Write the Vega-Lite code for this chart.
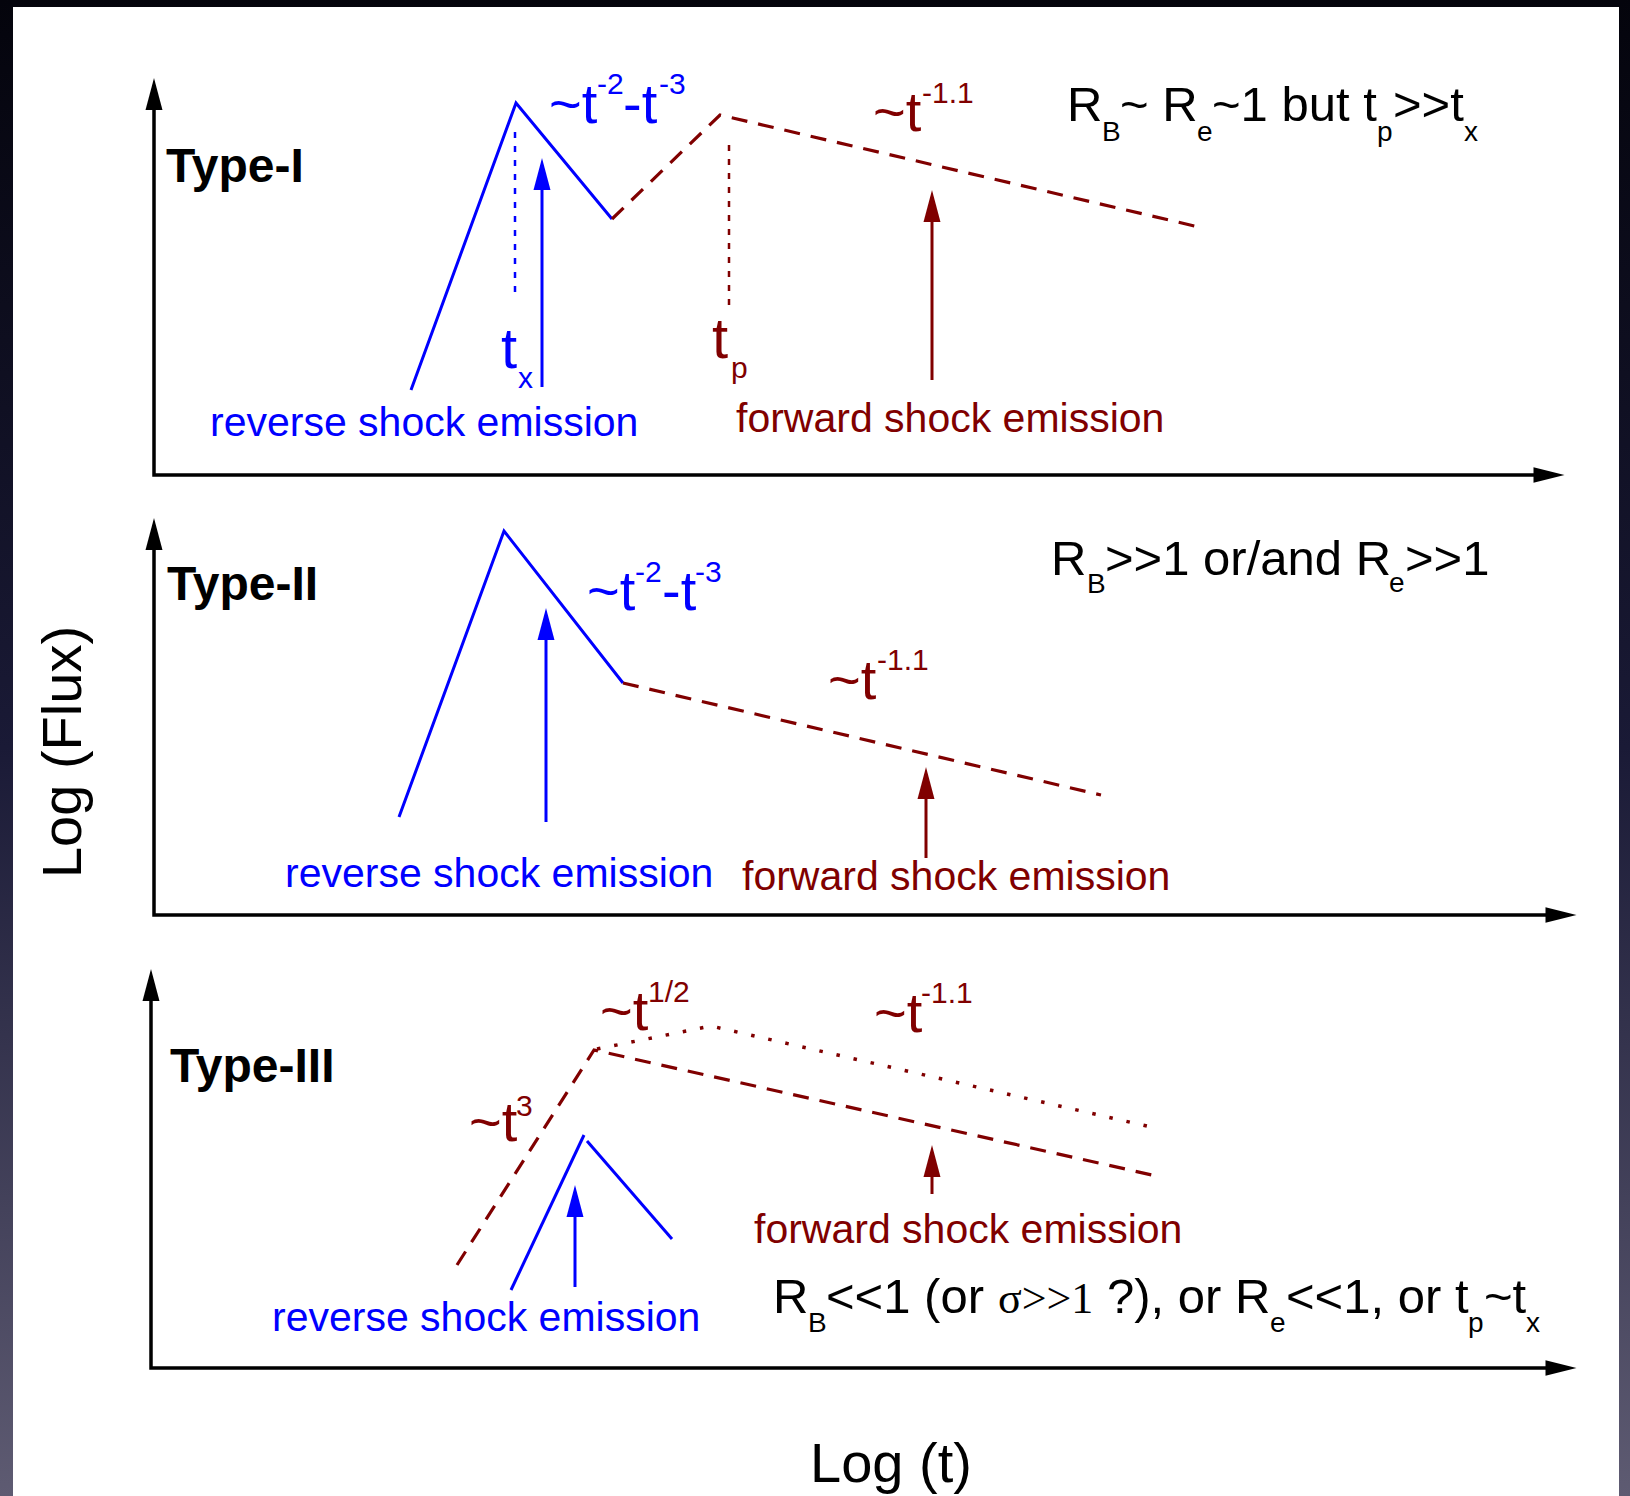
{
  "$schema": "https://vega.github.io/schema/vega-lite/v6.json",
  "width": 1630,
  "height": 1496,
  "autosize": {"type": "fit", "contains": "padding"},
  "padding": 0,
  "background": "#ffffff",
  "config": {"view": {"stroke": null}},
  "datasets": {
    "frame": [
      {"part": "border", "x": 0, "x2": 1630, "y": 0, "y2": 1496},
      {"part": "paper", "x": 13, "x2": 1619, "y": 7, "y2": 1496}
    ],
    "paths": [
      {"id": "ax1", "k": 0, "x": 154, "y": 96, "grp": "axis", "kind": "axis"},
      {"id": "ax1", "k": 1, "x": 154, "y": 475, "grp": "axis", "kind": "axis"},
      {"id": "ax1", "k": 2, "x": 1548, "y": 475, "grp": "axis", "kind": "axis"},
      {"id": "ax2", "k": 0, "x": 154, "y": 536, "grp": "axis", "kind": "axis"},
      {"id": "ax2", "k": 1, "x": 154, "y": 915, "grp": "axis", "kind": "axis"},
      {"id": "ax2", "k": 2, "x": 1560, "y": 915, "grp": "axis", "kind": "axis"},
      {"id": "ax3", "k": 0, "x": 151, "y": 987, "grp": "axis", "kind": "axis"},
      {"id": "ax3", "k": 1, "x": 151, "y": 1368, "grp": "axis", "kind": "axis"},
      {"id": "ax3", "k": 2, "x": 1560, "y": 1368, "grp": "axis", "kind": "axis"},

      {"id": "rs1", "k": 0, "x": 411, "y": 390, "grp": "reverse", "kind": "rs"},
      {"id": "rs1", "k": 1, "x": 516, "y": 103, "grp": "reverse", "kind": "rs"},
      {"id": "rs1", "k": 2, "x": 612, "y": 219, "grp": "reverse", "kind": "rs"},
      {"id": "rs2", "k": 0, "x": 399, "y": 817, "grp": "reverse", "kind": "rs"},
      {"id": "rs2", "k": 1, "x": 504, "y": 531, "grp": "reverse", "kind": "rs"},
      {"id": "rs2", "k": 2, "x": 623, "y": 683, "grp": "reverse", "kind": "rs"},
      {"id": "rs3a", "k": 0, "x": 511, "y": 1290, "grp": "reverse", "kind": "rs"},
      {"id": "rs3a", "k": 1, "x": 584, "y": 1135, "grp": "reverse", "kind": "rs"},
      {"id": "rs3b", "k": 0, "x": 587, "y": 1141, "grp": "reverse", "kind": "rs"},
      {"id": "rs3b", "k": 1, "x": 672, "y": 1239, "grp": "reverse", "kind": "rs"},

      {"id": "fs1", "k": 0, "x": 612, "y": 219, "grp": "forward", "kind": "fs"},
      {"id": "fs1", "k": 1, "x": 720, "y": 115, "grp": "forward", "kind": "fs"},
      {"id": "fs1", "k": 2, "x": 1203, "y": 228, "grp": "forward", "kind": "fs"},
      {"id": "fs2", "k": 0, "x": 623, "y": 683, "grp": "forward", "kind": "fs"},
      {"id": "fs2", "k": 1, "x": 1101, "y": 795, "grp": "forward", "kind": "fs"},
      {"id": "fs3", "k": 0, "x": 457, "y": 1265, "grp": "forward", "kind": "fs"},
      {"id": "fs3", "k": 1, "x": 594, "y": 1050, "grp": "forward", "kind": "fs"},
      {"id": "fs3", "k": 2, "x": 1152, "y": 1175, "grp": "forward", "kind": "fs"},
      {"id": "fa3", "k": 0, "x": 597, "y": 1049, "grp": "forward", "kind": "fsalt"},
      {"id": "fa3", "k": 1, "x": 711, "y": 1026, "grp": "forward", "kind": "fsalt"},
      {"id": "fa3", "k": 2, "x": 1151, "y": 1127, "grp": "forward", "kind": "fsalt"},

      {"id": "s1b", "k": 0, "x": 542, "y": 387, "grp": "reverse", "kind": "stem"},
      {"id": "s1b", "k": 1, "x": 542, "y": 185, "grp": "reverse", "kind": "stem"},
      {"id": "s1r", "k": 0, "x": 932, "y": 380, "grp": "forward", "kind": "stem"},
      {"id": "s1r", "k": 1, "x": 932, "y": 215, "grp": "forward", "kind": "stem"},
      {"id": "s2b", "k": 0, "x": 546, "y": 822, "grp": "reverse", "kind": "stem"},
      {"id": "s2b", "k": 1, "x": 546, "y": 635, "grp": "reverse", "kind": "stem"},
      {"id": "s2r", "k": 0, "x": 926, "y": 858, "grp": "forward", "kind": "stem"},
      {"id": "s2r", "k": 1, "x": 926, "y": 795, "grp": "forward", "kind": "stem"},
      {"id": "s3b", "k": 0, "x": 575, "y": 1287, "grp": "reverse", "kind": "stem"},
      {"id": "s3b", "k": 1, "x": 575, "y": 1212, "grp": "reverse", "kind": "stem"},
      {"id": "s3r", "k": 0, "x": 932, "y": 1194, "grp": "forward", "kind": "stem"},
      {"id": "s3r", "k": 1, "x": 932, "y": 1172, "grp": "forward", "kind": "stem"},

      {"id": "m1b", "k": 0, "x": 515, "y": 132, "grp": "reverse", "kind": "mark"},
      {"id": "m1b", "k": 1, "x": 515, "y": 298, "grp": "reverse", "kind": "mark"},
      {"id": "m1r", "k": 0, "x": 729, "y": 145, "grp": "forward", "kind": "mark"},
      {"id": "m1r", "k": 1, "x": 729, "y": 307, "grp": "forward", "kind": "mark"}
    ],
    "heads": [
      {"x": 154, "y": 94, "dir": "up", "grp": "axis"},
      {"x": 1549, "y": 475, "dir": "right", "grp": "axis"},
      {"x": 154, "y": 534, "dir": "up", "grp": "axis"},
      {"x": 1561, "y": 915, "dir": "right", "grp": "axis"},
      {"x": 151, "y": 985, "dir": "up", "grp": "axis"},
      {"x": 1561, "y": 1368, "dir": "right", "grp": "axis"},
      {"x": 542, "y": 174, "dir": "up", "grp": "reverse"},
      {"x": 932, "y": 206, "dir": "up", "grp": "forward"},
      {"x": 546, "y": 624, "dir": "up", "grp": "reverse"},
      {"x": 926, "y": 783, "dir": "up", "grp": "forward"},
      {"x": 575, "y": 1201, "dir": "up", "grp": "reverse"},
      {"x": 932, "y": 1161, "dir": "up", "grp": "forward"}
    ],
    "texts": [
      {"kind": "title", "grp": "axis", "x": 166, "y": 182, "text": "Type-I"},
      {"kind": "title", "grp": "axis", "x": 167, "y": 600, "text": "Type-II"},
      {"kind": "title", "grp": "axis", "x": 170, "y": 1082, "text": "Type-III"},

      {"kind": "law", "grp": "reverse", "x": 549, "y": 123, "text": "~t"},
      {"kind": "law", "grp": "reverse", "x": 623, "y": 123, "text": "-t"},
      {"kind": "law", "grp": "forward", "x": 873, "y": 131, "text": "~t"},
      {"kind": "main", "grp": "axis", "x": 1067, "y": 121, "text": "R"},
      {"kind": "main", "grp": "axis", "x": 1120, "y": 121, "text": "~ R"},
      {"kind": "main", "grp": "axis", "x": 1212, "y": 121, "text": "~1 but t"},
      {"kind": "main", "grp": "axis", "x": 1393, "y": 121, "text": ">>t"},

      {"kind": "law", "grp": "reverse", "x": 587, "y": 610, "text": "~t"},
      {"kind": "law", "grp": "reverse", "x": 662, "y": 610, "text": "-t"},
      {"kind": "law", "grp": "forward", "x": 828, "y": 699, "text": "~t"},
      {"kind": "main", "grp": "axis", "x": 1051, "y": 575, "text": "R"},
      {"kind": "main", "grp": "axis", "x": 1105, "y": 575, "text": ">>1 or/and R"},
      {"kind": "main", "grp": "axis", "x": 1405, "y": 575, "text": ">>1"},

      {"kind": "law", "grp": "forward", "x": 600, "y": 1030, "text": "~t"},
      {"kind": "law", "grp": "forward", "x": 874, "y": 1032, "text": "~t"},
      {"kind": "law", "grp": "forward", "x": 469, "y": 1141, "text": "~t"},
      {"kind": "main", "grp": "axis", "x": 773, "y": 1313, "text": "R"},
      {"kind": "main", "grp": "axis", "x": 826, "y": 1313, "text": "<<1 (or"},
      {"kind": "main", "grp": "axis", "x": 1107, "y": 1313, "text": "?), or R"},
      {"kind": "main", "grp": "axis", "x": 1286, "y": 1313, "text": "<<1, or t"},
      {"kind": "main", "grp": "axis", "x": 1484, "y": 1313, "text": "~t"},
      {"kind": "greek", "grp": "axis", "x": 998, "y": 1313, "text": "σ>>1"},

      {"kind": "sup", "grp": "reverse", "x": 597, "y": 94, "text": "-2"},
      {"kind": "sup", "grp": "reverse", "x": 659, "y": 94, "text": "-3"},
      {"kind": "sup", "grp": "forward", "x": 922, "y": 103, "text": "-1.1"},
      {"kind": "small", "grp": "axis", "x": 1102, "y": 141, "text": "B"},
      {"kind": "small", "grp": "axis", "x": 1197, "y": 141, "text": "e"},
      {"kind": "small", "grp": "axis", "x": 1377, "y": 141, "text": "p"},
      {"kind": "small", "grp": "axis", "x": 1464, "y": 141, "text": "x"},
      {"kind": "sup", "grp": "reverse", "x": 518, "y": 388, "text": "x"},
      {"kind": "sup", "grp": "forward", "x": 731, "y": 378, "text": "p"},

      {"kind": "sup", "grp": "reverse", "x": 635, "y": 582, "text": "-2"},
      {"kind": "sup", "grp": "reverse", "x": 695, "y": 582, "text": "-3"},
      {"kind": "sup", "grp": "forward", "x": 877, "y": 670, "text": "-1.1"},
      {"kind": "small", "grp": "axis", "x": 1087, "y": 593, "text": "B"},
      {"kind": "small", "grp": "axis", "x": 1389, "y": 592, "text": "e"},

      {"kind": "sup", "grp": "forward", "x": 648, "y": 1002, "text": "1/2"},
      {"kind": "sup", "grp": "forward", "x": 921, "y": 1003, "text": "-1.1"},
      {"kind": "sup", "grp": "forward", "x": 516, "y": 1116, "text": "3"},
      {"kind": "small", "grp": "axis", "x": 808, "y": 1332, "text": "B"},
      {"kind": "small", "grp": "axis", "x": 1270, "y": 1332, "text": "e"},
      {"kind": "small", "grp": "axis", "x": 1468, "y": 1332, "text": "p"},
      {"kind": "small", "grp": "axis", "x": 1526, "y": 1332, "text": "x"},

      {"kind": "tmark", "grp": "reverse", "x": 501, "y": 368, "text": "t"},
      {"kind": "tmark", "grp": "forward", "x": 712, "y": 358, "text": "t"},

      {"kind": "label", "grp": "reverse", "x": 210, "y": 436, "text": "reverse shock emission"},
      {"kind": "label", "grp": "forward", "x": 736, "y": 432, "text": "forward shock emission"},
      {"kind": "label", "grp": "reverse", "x": 285, "y": 887, "text": "reverse shock emission"},
      {"kind": "label", "grp": "forward", "x": 742, "y": 890, "text": "forward shock emission"},
      {"kind": "label", "grp": "reverse", "x": 272, "y": 1331, "text": "reverse shock emission"},
      {"kind": "label", "grp": "forward", "x": 754, "y": 1243, "text": "forward shock emission"},

      {"kind": "xtitle", "grp": "axis", "x": 891, "y": 1482, "text": "Log (t)"},
      {"kind": "ytitle", "grp": "axis", "x": 81, "y": 752, "text": "Log (Flux)"}
    ]
  },
  "encoding": {
    "x": {"field": "x", "type": "quantitative", "scale": {"domain": [0, 1630], "nice": false, "zero": false}, "axis": null},
    "y": {"field": "y", "type": "quantitative", "scale": {"domain": [0, 1496], "nice": false, "zero": false, "reverse": true}, "axis": null}
  },
  "layer": [
    {
      "data": {"name": "frame"},
      "transform": [{"filter": "datum.part === 'border'"}],
      "mark": {"type": "rect", "fill": {"gradient": "linear", "x1": 0, "y1": 0, "x2": 0, "y2": 1, "stops": [{"offset": 0, "color": "#04040c"}, {"offset": 0.5, "color": "#1a1a36"}, {"offset": 1, "color": "#5e5b72"}]}},
      "encoding": {"x2": {"field": "x2"}, "y2": {"field": "y2"}}
    },
    {
      "data": {"name": "frame"},
      "transform": [{"filter": "datum.part === 'paper'"}],
      "mark": {"type": "rect", "fill": "#ffffff"},
      "encoding": {"x2": {"field": "x2"}, "y2": {"field": "y2"}}
    },
    {
      "data": {"name": "paths"},
      "transform": [{"filter": "datum.kind === 'axis'"}],
      "mark": {"type": "line", "strokeWidth": 3.5, "strokeJoin": "miter"},
      "encoding": {
        "detail": {"field": "id"},
        "order": {"field": "k", "type": "quantitative"},
        "color": {"field": "grp", "type": "nominal", "scale": {"domain": ["axis", "reverse", "forward"], "range": ["#000000", "#0000ff", "#800000"]}, "legend": null}
      }
    },
    {
      "data": {"name": "paths"},
      "transform": [{"filter": "datum.kind === 'rs' || datum.kind === 'stem'"}],
      "mark": {"type": "line", "strokeWidth": 3, "strokeJoin": "miter"},
      "encoding": {
        "detail": {"field": "id"},
        "order": {"field": "k", "type": "quantitative"},
        "color": {"field": "grp", "type": "nominal", "legend": null}
      }
    },
    {
      "data": {"name": "paths"},
      "transform": [{"filter": "datum.kind === 'fs'"}],
      "mark": {"type": "line", "strokeWidth": 3.2, "strokeDash": [16, 11]},
      "encoding": {
        "detail": {"field": "id"},
        "order": {"field": "k", "type": "quantitative"},
        "color": {"field": "grp", "type": "nominal", "legend": null}
      }
    },
    {
      "data": {"name": "paths"},
      "transform": [{"filter": "datum.kind === 'fsalt'"}],
      "mark": {"type": "line", "strokeWidth": 3.5, "strokeDash": [3.5, 14]},
      "encoding": {
        "detail": {"field": "id"},
        "order": {"field": "k", "type": "quantitative"},
        "color": {"field": "grp", "type": "nominal", "legend": null}
      }
    },
    {
      "data": {"name": "paths"},
      "transform": [{"filter": "datum.kind === 'mark'"}],
      "mark": {"type": "line", "strokeWidth": 2.5, "strokeDash": [6, 8]},
      "encoding": {
        "detail": {"field": "id"},
        "order": {"field": "k", "type": "quantitative"},
        "color": {"field": "grp", "type": "nominal", "legend": null}
      }
    },
    {
      "data": {"name": "heads"},
      "transform": [{"filter": "datum.dir === 'up'"}],
      "mark": {"type": "point", "filled": true, "opacity": 1, "strokeWidth": 0, "shape": "M0,-1L-0.53,1L0.53,1Z", "size": 1024},
      "encoding": {"color": {"field": "grp", "type": "nominal", "legend": null}}
    },
    {
      "data": {"name": "heads"},
      "transform": [{"filter": "datum.dir === 'right'"}],
      "mark": {"type": "point", "filled": true, "opacity": 1, "strokeWidth": 0, "shape": "M1,0L-1,-0.5L-1,0.5Z", "size": 961},
      "encoding": {"color": {"field": "grp", "type": "nominal", "legend": null}}
    },
    {
      "data": {"name": "texts"},
      "transform": [{"filter": "datum.kind === 'title'"}],
      "mark": {"type": "text", "font": "Liberation Sans", "fontWeight": "bold", "fontSize": 48, "align": "left", "baseline": "alphabetic"},
      "encoding": {"text": {"field": "text"}, "color": {"field": "grp", "type": "nominal", "legend": null}}
    },
    {
      "data": {"name": "texts"},
      "transform": [{"filter": "datum.kind === 'law'"}],
      "mark": {"type": "text", "font": "Liberation Sans", "fontSize": 56, "align": "left", "baseline": "alphabetic"},
      "encoding": {"text": {"field": "text"}, "color": {"field": "grp", "type": "nominal", "legend": null}}
    },
    {
      "data": {"name": "texts"},
      "transform": [{"filter": "datum.kind === 'main'"}],
      "mark": {"type": "text", "font": "Liberation Sans", "fontSize": 49, "align": "left", "baseline": "alphabetic"},
      "encoding": {"text": {"field": "text"}, "color": {"field": "grp", "type": "nominal", "legend": null}}
    },
    {
      "data": {"name": "texts"},
      "transform": [{"filter": "datum.kind === 'greek'"}],
      "mark": {"type": "text", "font": "Liberation Serif", "fontSize": 44, "align": "left", "baseline": "alphabetic"},
      "encoding": {"text": {"field": "text"}, "color": {"field": "grp", "type": "nominal", "legend": null}}
    },
    {
      "data": {"name": "texts"},
      "transform": [{"filter": "datum.kind === 'small'"}],
      "mark": {"type": "text", "font": "Liberation Sans", "fontSize": 28, "align": "left", "baseline": "alphabetic"},
      "encoding": {"text": {"field": "text"}, "color": {"field": "grp", "type": "nominal", "legend": null}}
    },
    {
      "data": {"name": "texts"},
      "transform": [{"filter": "datum.kind === 'sup'"}],
      "mark": {"type": "text", "font": "Liberation Sans", "fontSize": 30, "align": "left", "baseline": "alphabetic"},
      "encoding": {"text": {"field": "text"}, "color": {"field": "grp", "type": "nominal", "legend": null}}
    },
    {
      "data": {"name": "texts"},
      "transform": [{"filter": "datum.kind === 'tmark'"}],
      "mark": {"type": "text", "font": "Liberation Sans", "fontSize": 58, "align": "left", "baseline": "alphabetic"},
      "encoding": {"text": {"field": "text"}, "color": {"field": "grp", "type": "nominal", "legend": null}}
    },
    {
      "data": {"name": "texts"},
      "transform": [{"filter": "datum.kind === 'label'"}],
      "mark": {"type": "text", "font": "Liberation Sans", "fontSize": 41, "align": "left", "baseline": "alphabetic"},
      "encoding": {"text": {"field": "text"}, "color": {"field": "grp", "type": "nominal", "legend": null}}
    },
    {
      "data": {"name": "texts"},
      "transform": [{"filter": "datum.kind === 'xtitle'"}],
      "mark": {"type": "text", "font": "Liberation Sans", "fontSize": 56, "align": "center", "baseline": "alphabetic"},
      "encoding": {"text": {"field": "text"}, "color": {"field": "grp", "type": "nominal", "legend": null}}
    },
    {
      "data": {"name": "texts"},
      "transform": [{"filter": "datum.kind === 'ytitle'"}],
      "mark": {"type": "text", "font": "Liberation Sans", "fontSize": 56, "align": "center", "baseline": "alphabetic", "angle": 270},
      "encoding": {"text": {"field": "text"}, "color": {"field": "grp", "type": "nominal", "legend": null}}
    }
  ]
}
